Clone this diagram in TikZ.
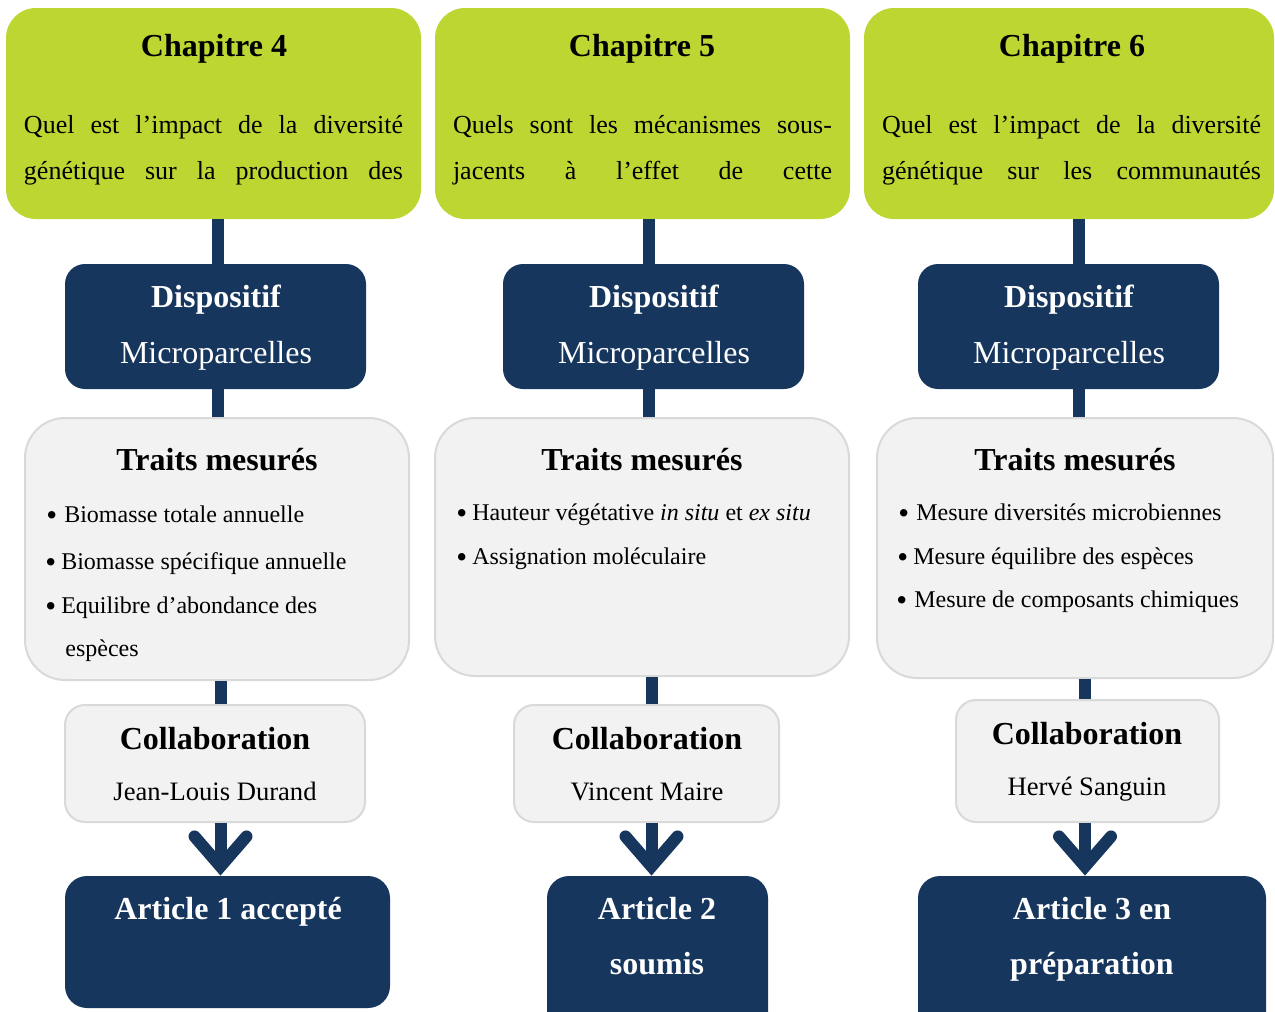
\documentclass[tikz,border=0pt]{standalone}
\usepackage{fontspec}
\setmainfont{Liberation Serif}
\usepackage{tikz}
\usetikzlibrary{fit,arrows.meta}
\definecolor{lime}{RGB}{189,214,50}
\definecolor{navy}{RGB}{23,54,93}
\definecolor{pale}{RGB}{242,242,242}
\definecolor{rim}{RGB}{217,217,217}
\newcommand{\dotitem}{\raisebox{-1.7pt}{\fontsize{15.5}{14}\selectfont\textbullet}}

\begin{document}
\begin{tikzpicture}[x=0.5pt, y=-0.5pt,
  rbox/.style={inner sep=0pt, rounded corners=#1},
  greenbox/.style={rbox=15pt, fill=lime},
  navybox/.style={rbox=#1, fill=navy},
  greybox/.style={rbox=#1, fill=pale, draw=rim, line width=1pt},
  hd/.style={inner sep=0pt, text height=10.5pt, text depth=0pt, font=\bfseries\fontsize{16}{19}\selectfont},
  big/.style={inner sep=0pt, text height=10.5pt, text depth=0pt, font=\fontsize{16}{19}\selectfont},
  txt/.style={inner sep=0pt, text height=8.6pt, text depth=0pt, font=\fontsize{13}{16}\selectfont},
  person/.style={inner sep=0pt, text height=8.8pt, text depth=0pt, font=\fontsize{13.3}{16}\selectfont},
  itemtext/.style={inner sep=0pt, anchor=west, text height=8pt, text depth=0pt, font=\fontsize{12}{14}\selectfont},
  bar/.style={draw=navy, line width=6pt},
  chevron/.style={-{Straight Barb[length=15pt, width=26pt, line cap=round, line join=miter]}}
]
\useasboundingbox (0,0) rectangle (1275,1012);
\clip (0,0) rectangle (1275,1012);

% column axes for the connectors
\coordinate (up1) at (217.5,0);  \coordinate (lo1) at (220.5,0);
\coordinate (up2) at (649,0);    \coordinate (lo2) at (651.5,0);
\coordinate (up3) at (1078.5,0); \coordinate (lo3) at (1085,0);

% chapitre 4
\node[greenbox, fit={(6,8) (421,219)}] (g1) {};
\node[hd] (g1h) at (214,46) {Chapitre 4};
\node[txt] (g1a) at (213.5,125) {\makebox[189.5pt][s]{Quel est l’impact de la diversité}};
\node[txt] (g1b) at (213.5,171) {\makebox[189.5pt][s]{génétique sur la production des}};
\node[navybox=10pt, fit={(65,264) (366,389)}] (d1) {};
\node[hd, white] (d1h) at (216,297) {Dispositif};
\node[big, white] (d1b) at (216,353) {Microparcelles};
\node[greybox=20pt, fit={(25,418) (409,680)}] (t1) {};
\node[hd] (t1h) at (217,460) {Traits mesurés};
\node[itemtext] (t1a) at (46,514) {\dotitem\hspace{3.5pt}Biomasse totale annuelle};
\node[itemtext] (t1b) at (45,561) {\dotitem\hspace{2.5pt}Biomasse spécifique annuelle};
\node[itemtext] (t1c) at (45,605) {\dotitem\hspace{2.5pt}Equilibre d’abondance des};
\node[itemtext] (t1d) at (65,648) {espèces};
\node[greybox=10pt, fit={(65,705) (365,822)}] (c1) {};
\node[hd] (c1h) at (215,739) {Collaboration};
\node[person] (c1n) at (215,792) {Jean-Louis Durand};
\node[navybox=11pt, fit={(65,876) (390,1008)}] (a1) {};
\node[hd, white] (a1h) at (228,909) {Article 1 accepté};

% chapitre 5
\node[greenbox, fit={(435,8) (850,219)}] (g2) {};
\node[hd] (g2h) at (642,46) {Chapitre 5};
\node[txt] (g2a) at (642.5,125) {\makebox[189.5pt][s]{Quels sont les mécanismes sous-}};
\node[txt] (g2b) at (642.5,171) {\makebox[189.5pt][s]{jacents à l’effet de cette}};
\node[navybox=10pt, fit={(503,264) (804,389)}] (d2) {};
\node[hd, white] (d2h) at (654,297) {Dispositif};
\node[big, white] (d2b) at (654,353) {Microparcelles};
\node[greybox=20pt, fit={(435,418) (849,676)}] (t2) {};
\node[hd] (t2h) at (642,460) {Traits mesurés};
\node[itemtext] (t2a) at (456,512) {\dotitem\hspace{2.5pt}Hauteur végétative \textit{in situ} et \textit{ex situ}};
\node[itemtext] (t2b) at (456,556) {\dotitem\hspace{2.5pt}Assignation moléculaire};
\node[greybox=10pt, fit={(514,705) (779,822)}] (c2) {};
\node[hd] (c2h) at (647,739) {Collaboration};
\node[person] (c2n) at (647,792) {Vincent Maire};
\node[navybox=11pt, fit={(547,876) (768,1040)}] (a2) {};
\node[hd, white] (a2h) at (657,909) {Article 2};
\node[hd, white] (a2b) at (657,964) {soumis};

% chapitre 6
\node[greenbox, fit={(864,8) (1274,219)}] (g3) {};
\node[hd] (g3h) at (1072,46) {Chapitre 6};
\node[txt] (g3a) at (1071.5,125) {\makebox[189.5pt][s]{Quel est l’impact de la diversité}};
\node[txt] (g3b) at (1071.5,171) {\makebox[189.5pt][s]{génétique sur les communautés}};
\node[navybox=10pt, fit={(918,264) (1219,389)}] (d3) {};
\node[hd, white] (d3h) at (1069,297) {Dispositif};
\node[big, white] (d3b) at (1069,353) {Microparcelles};
\node[greybox=20pt, fit={(877,418) (1273,678)}] (t3) {};
\node[hd] (t3h) at (1075,460) {Traits mesurés};
\node[itemtext] (t3a) at (898,512) {\dotitem\hspace{3.5pt}Mesure diversités microbiennes};
\node[itemtext] (t3b) at (897,556) {\dotitem\hspace{2.5pt}Mesure équilibre des espèces};
\node[itemtext] (t3c) at (896,599) {\dotitem\hspace{3.5pt}Mesure de composants chimiques};
\node[greybox=10pt, fit={(956,700) (1219,822)}] (c3) {};
\node[hd] (c3h) at (1087,734) {Collaboration};
\node[person] (c3n) at (1087,787) {Hervé Sanguin};
\node[navybox=11pt, fit={(918,876) (1266,1040)}] (a3) {};
\node[hd, white] (a3h) at (1092,909) {Article 3 en};
\node[hd, white] (a3b) at (1092,964) {préparation};

% connectors
\draw[bar] (g1.south -| up1) -- (d1.north -| up1);
\draw[bar] (d1.south -| up1) -- (t1.north -| up1);
\draw[bar] (t1.south -| lo1) -- (c1.north -| lo1);
\draw[bar, chevron] (c1.south -| lo1) -- (a1.north -| lo1);
\draw[bar] (g2.south -| up2) -- (d2.north -| up2);
\draw[bar] (d2.south -| up2) -- (t2.north -| up2);
\draw[bar] (t2.south -| lo2) -- (c2.north -| lo2);
\draw[bar, chevron] (c2.south -| lo2) -- (a2.north -| lo2);
\draw[bar] (g3.south -| up3) -- (d3.north -| up3);
\draw[bar] (d3.south -| up3) -- (t3.north -| up3);
\draw[bar] (t3.south -| lo3) -- (c3.north -| lo3);
\draw[bar, chevron] (c3.south -| lo3) -- (a3.north -| lo3);
\end{tikzpicture}
\end{document}
